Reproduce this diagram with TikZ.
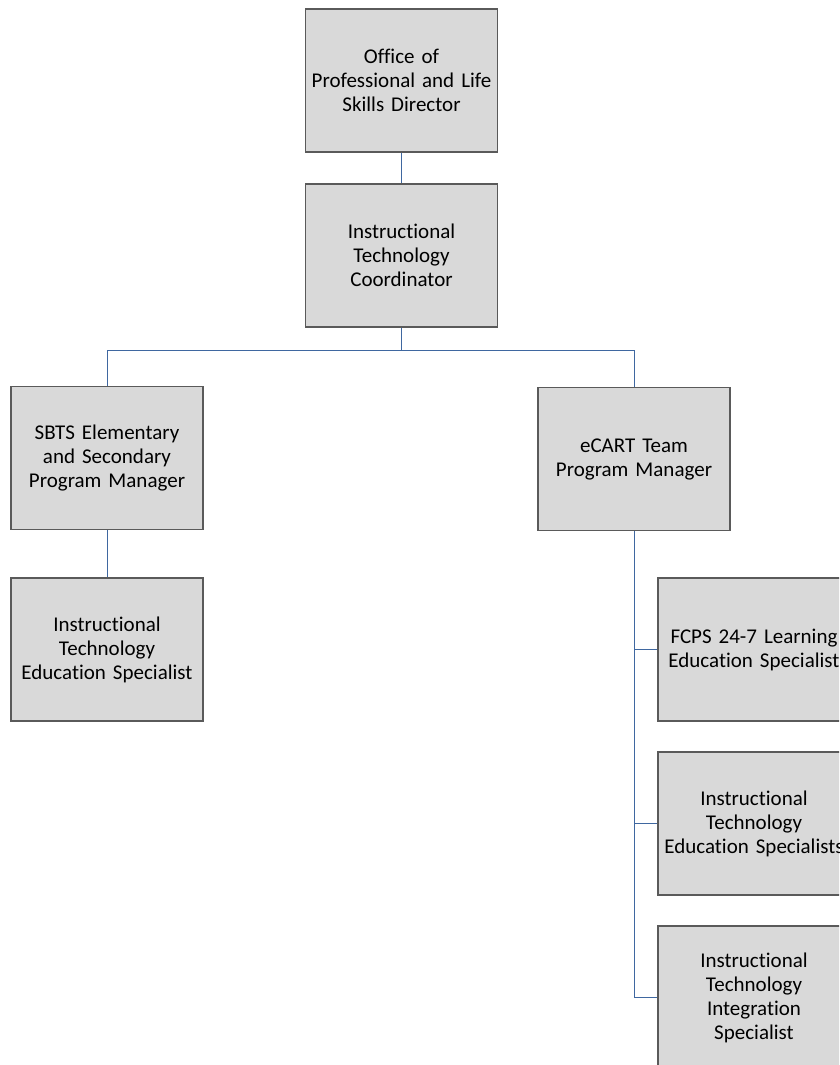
\documentclass[tikz,border=0pt]{standalone}
\usepackage{fontspec}
\setmainfont{Carlito}[Ligatures=NoCommon]
\definecolor{boxfill}{HTML}{D9D9D9}
\definecolor{boxline}{HTML}{5A5A5A}
\definecolor{linkblue}{HTML}{3F67A0}
\begin{document}
\begin{tikzpicture}[x=1pt,y=-1pt,
  orgbox/.style={rectangle, draw=boxline, line width=1.2pt, fill=boxfill,
    minimum width=192pt, minimum height=143pt, inner sep=0pt,
    text width=186pt, align=center, font=\fontsize{21}{24}\selectfont},
  link/.style={draw=linkblue, line width=1pt}]
  \useasboundingbox (0,0) rectangle (839,1065);
  \clip (0,0) rectangle (839,1065);

  % top of the chart
  \node[orgbox] (dir)   at (401.5,80.5)  {Office of\\Professional and Life\\Skills Director};
  \node[orgbox] (coord) at (401.5,255.5) {Instructional\\Technology\\Coordinator};

  % left branch
  \node[orgbox] (sbts)  at (107,458)     {SBTS Elementary\\and Secondary\\Program Manager};
  \node[orgbox] (ites)  at (107,649.5)   {Instructional\\Technology\\Education Specialist};

  % right branch
  \node[orgbox] (ecart) at (634,459)     {eCART Team\\Program Manager};
  \node[orgbox] (fcps)  at (754,649.5)   {FCPS 24-7 Learning\\Education Specialist};
  \node[orgbox] (itess) at (754,823.5)   {Instructional\\Technology\\Education Specialists};
  \node[orgbox] (itis)  at (754,997.5)   {Instructional\\Technology\\Integration\\Specialist};

  % reporting lines
  \draw[link] (dir.south) -- (coord.north);
  \draw[link] (coord.south) -- ++(0,23) -| (sbts.north);
  \draw[link] (coord.south) -- ++(0,23) -| (ecart.north);
  \draw[link] (sbts.south) -- (ites.north);
  \draw[link] (ecart.south) |- (fcps.west);
  \draw[link] (ecart.south) |- (itess.west);
  \draw[link] (ecart.south) |- (itis.west);
\end{tikzpicture}
\end{document}
